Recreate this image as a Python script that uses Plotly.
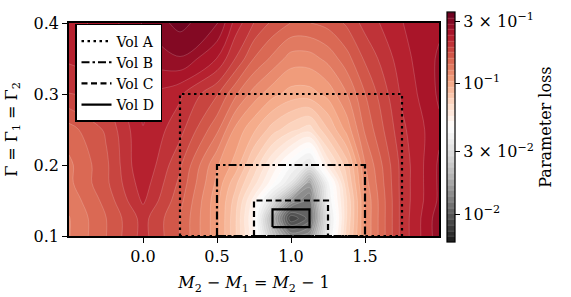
import numpy as np
import plotly.graph_objects as go

# grid coordinates
x_vals = [-0.5, -0.25, 0.0, 0.25, 0.5, 0.625, 0.75, 0.875, 1.0, 1.125, 1.25, 1.375, 1.5, 1.75, 2.0]
y_vals = [0.1, 0.125, 0.15, 0.175, 0.2, 0.25, 0.3, 0.35, 0.4]

# parameter loss, one row per y value
loss_y0100 = [0.127, 0.156, 0.199, 0.156, 0.108, 0.078, 0.052, 0.0231, 0.0136, 0.0148, 0.0361, 0.072, 0.117, 0.199, 0.275]
loss_y0125 = [0.127, 0.156, 0.199, 0.156, 0.108, 0.078, 0.0499, 0.0188, 0.0083, 0.0106, 0.0333, 0.069, 0.117, 0.199, 0.275]
loss_y0150 = [0.132, 0.162, 0.216, 0.162, 0.108, 0.081, 0.054, 0.0306, 0.0154, 0.012, 0.0376, 0.069, 0.117, 0.199, 0.264]
loss_y0175 = [0.138, 0.169, 0.225, 0.169, 0.1125, 0.088, 0.066, 0.048, 0.0333, 0.0166, 0.0407, 0.075, 0.122, 0.199, 0.264]
loss_y0200 = [0.138, 0.169, 0.234, 0.176, 0.117, 0.100, 0.075, 0.056, 0.0425, 0.0333, 0.0587, 0.081, 0.127, 0.199, 0.264]
loss_y0250 = [0.150, 0.176, 0.234, 0.199, 0.145, 0.1125, 0.096, 0.081, 0.072, 0.066, 0.085, 0.108, 0.144, 0.207, 0.254]
loss_y0300 = [0.191, 0.199, 0.240, 0.216, 0.175, 0.144, 0.122, 0.108, 0.100, 0.100, 0.108, 0.127, 0.156, 0.216, 0.264]
loss_y0350 = [0.216, 0.234, 0.264, 0.285, 0.234, 0.191, 0.156, 0.138, 0.122, 0.122, 0.132, 0.150, 0.176, 0.225, 0.264]
loss_y0400 = [0.225, 0.245, 0.290, 0.330, 0.290, 0.225, 0.191, 0.169, 0.156, 0.156, 0.162, 0.176, 0.199, 0.234, 0.254]

loss_rows = [loss_y0100, loss_y0125, loss_y0150, loss_y0175, loss_y0200,
             loss_y0250, loss_y0300, loss_y0350, loss_y0400]

# search volumes
vol_names = ["Vol A", "Vol B", "Vol C", "Vol D"]
vol_x0 = [0.25, 0.5, 0.75, 0.875]
vol_x1 = [1.75, 1.5, 1.25, 1.125]
vol_y0 = [0.1, 0.1, 0.1, 0.1125]
vol_y1 = [0.3, 0.2, 0.15, 0.1375]
vol_dash = ["2.5px,3.5px", "8px,3px,2.5px,3px", "6px,3.5px", "solid"]

# colour bar ticks
cb_tick_vals = [0.3, 0.1, 0.03, 0.01]
cb_tick_text = ["3 × 10<sup>−1</sup>", "10<sup>−1</sup>", "3 × 10<sup>−2</sup>", "10<sup>−2</sup>"]
cb_min, cb_max = 0.0061, 0.352

FONT = "DejaVu Serif"

z = np.log10(np.array(loss_rows))
zmin, zmax = np.log10(cb_min), np.log10(cb_max)
nlev = 40

fig = go.Figure()
fig.add_trace(go.Contour(
    x=x_vals, y=y_vals, z=z,
    zmin=zmin, zmax=zmax, zauto=False,
    colorscale="RdGy", reversescale=True,
    contours=dict(start=zmin, end=zmax, size=(zmax - zmin) / nlev, coloring="fill"),
    line=dict(width=0.5, color="rgba(255,255,255,0.35)", smoothing=1),
    showlegend=False, hoverinfo="skip",
    colorbar=dict(
        x=(447 - 69) / 370, xanchor="left", xpad=0, ypad=0,
        y=(236 - 123) / 221, yanchor="middle",
        len=230, lenmode="pixels", thickness=8, thicknessmode="pixels",
        outlinecolor="black", outlinewidth=1.2,
        tickvals=list(np.log10(cb_tick_vals)), ticktext=cb_tick_text,
        ticks="outside", ticklen=5, tickwidth=1.2, tickcolor="black",
        tickfont=dict(family=FONT, size=16, color="black"),
        title=dict(text="Parameter loss", side="right",
                   font=dict(family=FONT, size=16, color="black")),
    ),
))

for name, x0, x1, y0, y1, d in zip(vol_names, vol_x0, vol_x1, vol_y0, vol_y1, vol_dash):
    fig.add_trace(go.Scatter(
        x=[x0, x0, x1, x1, x0], y=[y0, y1, y1, y0, y0],
        mode="lines", name=name,
        line=dict(color="black", width=2.2, dash=d),
        hoverinfo="skip",
    ))

axis_common = dict(
    showgrid=False, zeroline=False, showline=True, linecolor="black", linewidth=1.5,
    mirror=True, ticks="outside", ticklen=5, tickwidth=1.3, tickcolor="black",
    tickfont=dict(family=FONT, size=16, color="black"), automargin=False,
)

fig.update_layout(
    width=571, height=297,
    margin=dict(l=69, r=132, t=15, b=61),
    paper_bgcolor="white", plot_bgcolor="white",
    font=dict(family=FONT, color="black"),
    xaxis=dict(range=[-0.5, 2.0], tickvals=[0.0, 0.5, 1.0, 1.5],
               ticktext=["0.0", "0.5", "1.0", "1.5"],
               title=dict(text="<i>M</i><sub>2</sub> − <i>M</i><sub>1</sub> = <i>M</i><sub>2</sub> − 1",
                          font=dict(family=FONT, size=16), standoff=12),
               **axis_common),
    yaxis=dict(range=[0.1, 0.4], tickvals=[0.1, 0.2, 0.3, 0.4],
               ticktext=["0.1", "0.2", "0.3", "0.4"],
               title=dict(text="Γ = Γ<sub>1</sub> = Γ<sub>2</sub>",
                          font=dict(family=FONT, size=16), standoff=12),
               **axis_common),
    legend=dict(x=(75 - 69) / 370, y=(236 - 16) / 221, xanchor="left", yanchor="top",
                bgcolor="white", bordercolor="black", borderwidth=1.5,
                font=dict(family=FONT, size=14, color="black"),
                tracegroupgap=0, itemwidth=30),
)

fig.write_html("out.html")
